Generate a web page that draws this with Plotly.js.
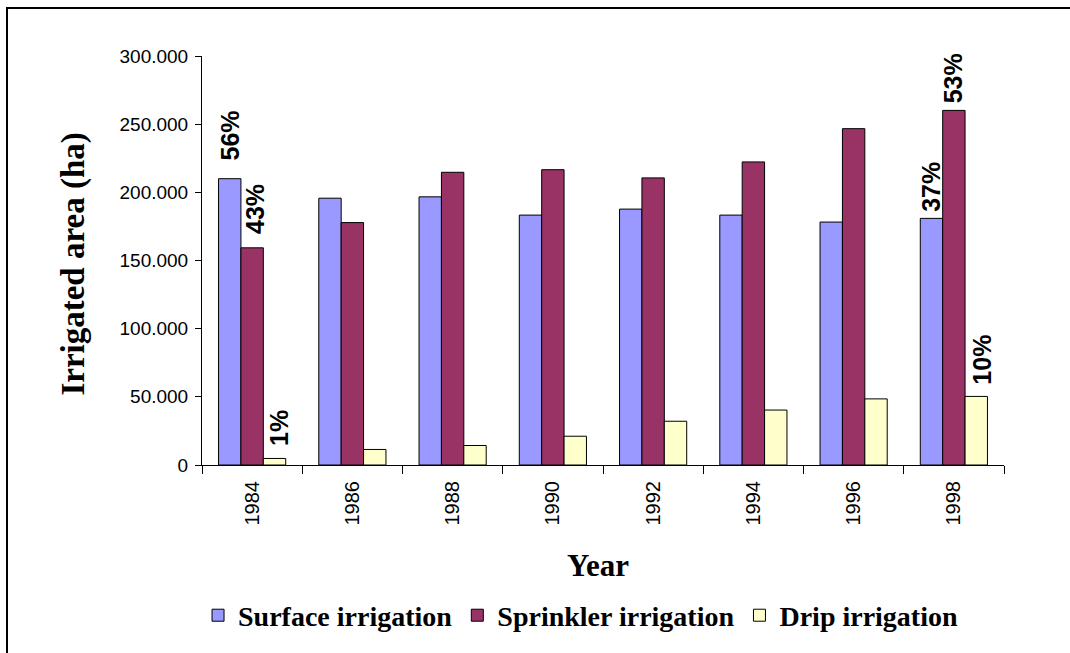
<!DOCTYPE html>
<html>
<head>
<meta charset="utf-8">
<script src="https://cdn.plot.ly/plotly-3.0.1.min.js"></script>
<style>
  html, body { margin: 0; padding: 0; background: #fff; }
  #wrap { position: relative; width: 1070px; height: 653px; overflow: hidden; }
  #chart { width: 1070px; height: 653px; }
  #frame { position: absolute; left: 6px; top: 7px; width: 1200px; height: 800px;
           border-top: 2px solid #000; border-left: 2px solid #000; pointer-events: none; }
</style>
</head>
<body>
<div id="wrap">
  <div id="chart"></div>
  <div id="frame"></div>
</div>
<script>
// ---- data ----
var years = ['1984', '1986', '1988', '1990', '1992', '1994', '1996', '1998'];
var surface   = [210000, 195700, 196700, 183300, 187700, 183300, 178200, 180900];
var sprinkler = [159300, 177800, 214700, 216600, 210600, 222300, 246700, 260100];
var drip      = [4800, 11400, 14300, 21100, 32100, 40300, 48500, 50300];
var seriesNames = ['Surface irrigation', 'Sprinkler irrigation', 'Drip irrigation'];
var yTitle = 'Irrigated area (ha)';
var xTitle = 'Year';
// percentage share labels: year, series index, text
var shareYears  = ['1984', '1984', '1984', '1998', '1998', '1998'];
var shareSeries = [0, 1, 2, 0, 1, 2];
var shareText   = ['56%', '43%', '1%', '37%', '53%', '10%'];

// ---- styles ----
var colors = ['#9999FF', '#993366', '#FFFFCC'];
var allSeries = [surface, sprinkler, drip];
var bargap = 0.33;
var barW = (1 - bargap) / 3;
var SANS = '"Liberation Sans", Arial, sans-serif';
var SERIF = '"Liberation Serif", "Times New Roman", serif';

var traces = allSeries.map(function (vals, i) {
  return {
    type: 'bar',
    name: seriesNames[i],
    x: years,
    y: vals,
    marker: { color: colors[i], line: { color: '#000', width: 1 } },
    hoverinfo: 'x+y+name'
  };
});

// small visual offsets so labels sit as in the reference
var labelYShift = [16, 12, 10, 5, 5, 10];
var labelXShift = [0, 3, 5, 0, 0, 6];

var annotations = shareText.map(function (t, k) {
  var s = shareSeries[k];
  var ci = years.indexOf(shareYears[k]);
  return {
    x: ci + (s - 1) * barW,
    y: allSeries[s][ci],
    xref: 'x', yref: 'y',
    text: '<b>' + t + '</b>',
    showarrow: false,
    textangle: -90,
    xanchor: 'center', yanchor: 'bottom',
    yshift: labelYShift[k], xshift: labelXShift[k],
    font: { family: SANS, size: 25, color: '#000' }
  };
});

annotations.push({
  xref: 'paper', yref: 'paper', x: -0.1596, y: 0.49,
  xanchor: 'center', yanchor: 'middle', textangle: -90, showarrow: false,
  text: '<b>' + yTitle + '</b>',
  font: { family: SERIF, size: 33, color: '#000' }
});
annotations.push({
  xref: 'paper', yref: 'paper', x: 0.494, y: -0.246,
  xanchor: 'center', yanchor: 'middle', showarrow: false,
  text: '<b>' + xTitle + '</b>',
  font: { family: SERIF, size: 31, color: '#000' }
});

var layout = {
  width: 1070, height: 653,
  margin: { l: 202, r: 66, t: 56, b: 186 },
  paper_bgcolor: '#fff', plot_bgcolor: '#fff',
  separators: ',.',
  barmode: 'group',
  bargap: bargap,
  bargroupgap: 0,
  showlegend: true,
  legend: {
    orientation: 'h',
    x: 0.472, xanchor: 'center',
    y: -0.368, yanchor: 'middle',
    itemwidth: 30,
    font: { family: SERIF, size: 28, color: '#000', weight: 'bold' }
  },
  xaxis: {
    type: 'category',
    showline: true, linecolor: '#000', linewidth: 1,
    ticks: 'outside', tickson: 'boundaries', ticklen: 8, tickcolor: '#000',
    tickangle: -90,
    ticklabelstandoff: 7,
    tickfont: { family: SANS, size: 20, color: '#000' },
    showgrid: false, zeroline: false
  },
  yaxis: {
    range: [0, 300000],
    dtick: 50000, tick0: 0,
    tickformat: ',d',
    showline: true, linecolor: '#000', linewidth: 1,
    ticks: 'outside', ticklen: 6, tickcolor: '#000',
    ticklabelstandoff: 3,
    tickfont: { family: SANS, size: 19, color: '#000' },
    showgrid: false, zeroline: false
  },
  annotations: annotations
};

Plotly.newPlot('chart', traces, layout, { displayModeBar: false, staticPlot: true });
</script>
</body>
</html>
